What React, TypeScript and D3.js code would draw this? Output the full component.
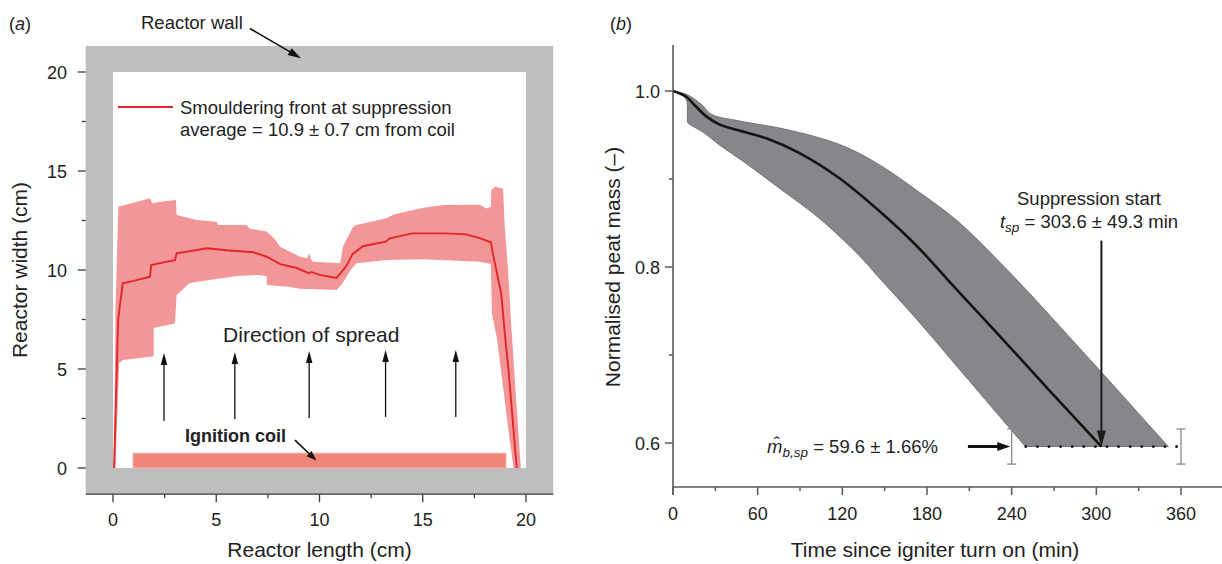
import React from "react";
import * as d3 from "d3";

const W = 1222;
const H = 564;
const FONT = "'Liberation Sans', Arial, Helvetica, sans-serif";

// ---------- Panel (a) data ----------
const xTicksA = [0, 5, 10, 15, 20];
const yTicksA = [0, 5, 10, 15, 20];
const minorTicksA = [2.5, 7.5, 12.5, 17.5];

const meanFrontA: [number, number][] = [
  [0.05, 0], [0.25, 7.5], [0.47, 9.33], [1.0, 9.45], [1.79, 9.66], [1.85, 10.25],
  [2.5, 10.4], [3.0, 10.5], [3.08, 10.84], [4.0, 11.0], [4.54, 11.1], [5.5, 11.0],
  [6.8, 10.9], [7.44, 10.67], [8.1, 10.3], [8.9, 10.1], [9.5, 9.83], [9.6, 9.9],
  [10.0, 9.75], [10.83, 9.6], [11.3, 10.2], [11.6, 10.8], [12.1, 11.2], [13.2, 11.43],
  [13.4, 11.6], [14.5, 11.85], [16.1, 11.85], [17.1, 11.8], [17.8, 11.6], [18.3, 11.4],
  [18.4, 10.8], [18.8, 8.8], [19.0, 6.5], [19.15, 5], [19.35, 2.5], [19.55, 0],
];

const bandUpperA: [number, number][] = [
  [0.05, 0], [0.12, 8], [0.26, 13.2], [1.0, 13.4], [1.79, 13.62], [1.9, 13.37],
  [2.3, 13.45], [3.05, 13.53], [3.08, 12.78], [4.05, 12.53], [5.0, 12.44], [5.1, 12.27],
  [6.47, 12.27], [6.6, 12.1], [7.44, 11.94], [7.8, 11.6], [8.1, 11.18], [9.05, 10.67],
  [9.4, 10.59], [9.5, 10.85], [9.6, 10.5], [9.7, 10.42], [11.0, 10.34], [11.14, 11.2],
  [11.63, 12.19], [11.79, 12.27], [13.24, 12.61], [13.6, 12.8], [15.02, 13.15],
  [16.0, 13.28], [17.76, 13.3], [18.08, 13.11], [18.3, 13.2], [18.32, 14.04],
  [18.5, 14.21], [18.89, 14.1], [18.97, 12.2], [19.13, 10], [19.3, 7], [19.55, 3], [19.75, 0],
];

const bandLowerA: [number, number][] = [
  [0.12, 0], [0.3, 5.3], [0.5, 5.45], [1.97, 5.65], [1.97, 7.07], [3.0, 7.3],
  [3.08, 8.74], [3.7, 9.33], [4.1, 9.41], [6.0, 9.7], [7.0, 9.75], [7.44, 9.7],
  [7.45, 9.24], [8.5, 9.16], [9.05, 9.05], [10.83, 8.99], [11.1, 9.3], [11.5, 10.0],
  [11.8, 10.34], [13.24, 10.5], [15.0, 10.54], [17.76, 10.42], [18.3, 10.3],
  [18.35, 7.81], [18.6, 6.5], [18.9, 4], [19.2, 1.5], [19.4, 0],
];

const spreadArrowX = [2.47, 5.9, 9.5, 13.2, 16.6];
const spreadArrowY0 = [2.37, 2.47, 2.53, 2.58, 2.58];
const spreadArrowY1 = [5.81, 5.86, 5.91, 5.96, 5.96];
const coilExtent = [0.97, 19.03];
const coilHeight = 0.75;
const wallCm = 1.32;

// ---------- Panel (b) data ----------
const xTicksB = [0, 60, 120, 180, 240, 300, 360];
const xMinorB = [30, 90, 150, 210, 270, 330];
const yTicksB = [0.6, 0.8, 1.0];
const yMinorB = [0.7, 0.9];

const timeMean = [0, 8.9, 15.9, 22.9, 32.7, 46.8, 66.5, 89, 117, 145.2, 173.3, 194.4, 218, 241, 266, 303.6];
const massMean = [1.0, 0.994, 0.983, 0.972, 0.962, 0.955, 0.946, 0.93, 0.902, 0.865, 0.823, 0.786, 0.745, 0.705, 0.661, 0.596];

const bandUpperB: [number, number][] = [
  [0, 1.0], [9.8, 0.996], [20, 0.985], [27.2, 0.9735], [46.8, 0.966], [75.1, 0.958],
  [103.2, 0.947], [122.9, 0.936], [145.4, 0.917], [173.6, 0.886], [201.8, 0.852],
  [230, 0.808], [255, 0.766], [280, 0.722], [305, 0.678], [328.5, 0.636], [351, 0.596],
];
const bandLowerB: [number, number][] = [
  [0, 1.0], [5, 0.997], [9.5, 0.99], [10.2, 0.975], [10.5, 0.964], [13, 0.961],
  [21.5, 0.953], [32.7, 0.939], [52.4, 0.917], [75, 0.89], [103.2, 0.856],
  [131.4, 0.814], [145.4, 0.789], [173.6, 0.739], [201.8, 0.686], [230, 0.633], [249.7, 0.596],
];

const tSp = 303.6;
const mSp = 0.596;
const errHalf = 0.02;
const errBarT = [240, 360];
const dotRange = [250, 360];
const supArrowTop = 0.83;
const mArrowT = [209, 239];

function Arrow({ x1, y1, x2, y2, sw = 1.3, hl = 12, hw = 7, color = "#111" }: any) {
  const dx = x2 - x1;
  const dy = y2 - y1;
  const L = Math.hypot(dx, dy);
  const ux = dx / L;
  const uy = dy / L;
  const bx = x2 - ux * hl;
  const by = y2 - uy * hl;
  const px = -uy;
  const py = ux;
  const pts = [
    [x2, y2],
    [bx + (px * hw) / 2, by + (py * hw) / 2],
    [bx - (px * hw) / 2, by - (py * hw) / 2],
  ];
  return (
    <g>
      <line x1={x1} y1={y1} x2={bx + ux * 2} y2={by + uy * 2} stroke={color} strokeWidth={sw} />
      <polygon points={pts.map((p) => p.join(",")).join(" ")} fill={color} />
    </g>
  );
}

export default function App() {
  const xA = d3.scaleLinear().domain([0, 20]).range([113, 526]);
  const yA = d3.scaleLinear().domain([0, 20]).range([468, 72]);
  const xB = d3.scaleLinear().domain([0, 360]).range([673, 1181]);
  const yB = d3.scaleLinear().domain([0.6, 1.0]).range([443, 91]);

  const lineA = d3.line<[number, number]>().x((d) => xA(d[0])).y((d) => yA(d[1]));
  const bandA =
    "M" +
    bandUpperA
      .concat(bandLowerA.slice().reverse())
      .map((d) => `${xA(d[0])},${yA(d[1])}`)
      .join("L") +
    "Z";

  const smooth = d3
    .line<[number, number]>()
    .x((d) => xB(d[0]))
    .y((d) => yB(d[1]))
    .curve(d3.curveCatmullRom.alpha(0.5));
  const upPath = smooth(bandUpperB) as string;
  const lowPath = smooth(bandLowerB.slice().reverse()) as string;
  const bandB = upPath + lowPath.replace(/^M/, "L") + "Z";
  const meanPts: [number, number][] = timeMean.map((t, i) => [t, massMean[i]]);
  const meanB = smooth(meanPts) as string;

  const gx0 = xA(-wallCm);
  const gx1 = xA(20 + wallCm);
  const gy0 = yA(20 + wallCm);
  const gy1 = yA(-wallCm);

  const axisA = "#3a3a3a";
  const axisB = "#5a5a5a";

  return (
    <svg
      width={W}
      height={H}
      viewBox={`0 0 ${W} ${H}`}
      style={{ position: "absolute", left: 0, top: 0, background: "#fff" }}
      fontFamily={FONT}
    >
      <rect x={0} y={0} width={W} height={H} fill="#fff" />

      {/* ---------------- Panel (a) ---------------- */}
      <text x={9} y={30} fontSize={18} fill="#222">
        (<tspan fontStyle="italic">a</tspan>)
      </text>

      <rect x={gx0} y={gy0} width={gx1 - gx0} height={gy1 - gy0} fill="#bebebe" />
      <rect x={xA(0)} y={yA(20)} width={xA(20) - xA(0)} height={yA(0) - yA(20)} fill="#fff" />

      <path d={bandA} fill="#f29698" stroke="none" />
      <rect
        x={xA(coilExtent[0])}
        y={yA(coilHeight)}
        width={xA(coilExtent[1]) - xA(coilExtent[0])}
        height={yA(0) - yA(coilHeight)}
        fill="#ef8679"
        stroke="#f6b0a6"
        strokeWidth={1}
      />
      <path d={lineA(meanFrontA) as string} fill="none" stroke="#e4262b" strokeWidth={1.9} />

      <line x1={118} x2={173} y1={107} y2={107} stroke="#e4262b" strokeWidth={2} />
      <text x={180} y={114} fontSize={18.5} fill="#222">
        Smouldering front at suppression
      </text>
      <text x={180} y={136} fontSize={18.5} fill="#222">
        average = 10.9 ± 0.7 cm from coil
      </text>

      <text x={141} y={29} fontSize={18.5} fill="#222">
        Reactor wall
      </text>
      <Arrow x1={xA(6.63)} y1={yA(22.2)} x2={xA(9.1)} y2={yA(20.7)} sw={1.6} hl={13} hw={8} />

      <text x={xA(9.6)} y={342} fontSize={21} fill="#222" textAnchor="middle">
        Direction of spread
      </text>
      {spreadArrowX.map((x, i) => (
        <Arrow
          key={i}
          x1={xA(x)}
          y1={yA(spreadArrowY0[i])}
          x2={xA(x)}
          y2={yA(spreadArrowY1[i])}
          sw={1.3}
          hl={12}
          hw={6.5}
        />
      ))}

      <text x={185} y={442} fontSize={18} fontWeight="bold" fill="#222">
        Ignition coil
      </text>
      <Arrow x1={xA(8.81)} y1={yA(1.41)} x2={xA(9.85)} y2={yA(0.38)} sw={1.6} hl={10} hw={7} />

      <line x1={gx0} x2={gx1} y1={gy1} y2={gy1} stroke={axisA} strokeWidth={1.3} />
      {xTicksA.map((t) => (
        <g key={"xa" + t}>
          <line x1={xA(t)} x2={xA(t)} y1={gy1} y2={gy1 + 8} stroke={axisA} strokeWidth={1.3} />
          <text x={xA(t)} y={526} fontSize={18} textAnchor="middle" fill="#222">
            {t}
          </text>
        </g>
      ))}
      {minorTicksA.map((t) => (
        <line key={"xma" + t} x1={xA(t)} x2={xA(t)} y1={gy1} y2={gy1 + 4} stroke={axisA} strokeWidth={1.3} />
      ))}
      {yTicksA.map((t) => (
        <g key={"ya" + t}>
          <line x1={gx0 - 8} x2={gx0} y1={yA(t)} y2={yA(t)} stroke={axisA} strokeWidth={1.3} />
          <text x={67} y={yA(t) + 6.5} fontSize={18} textAnchor="end" fill="#222">
            {t}
          </text>
        </g>
      ))}
      {minorTicksA.map((t) => (
        <line key={"yma" + t} x1={gx0 - 4} x2={gx0} y1={yA(t)} y2={yA(t)} stroke={axisA} strokeWidth={1.3} />
      ))}
      <text x={xA(10)} y={557} fontSize={21} textAnchor="middle" fill="#222">
        Reactor length (cm)
      </text>
      <text transform={`translate(27, ${yA(10)}) rotate(-90)`} fontSize={21} textAnchor="middle" fill="#222">
        Reactor width (cm)
      </text>

      {/* ---------------- Panel (b) ---------------- */}
      <text x={610} y={30} fontSize={18} fill="#222">
        (<tspan fontStyle="italic">b</tspan>)
      </text>

      <path d={bandB} fill="#87878b" stroke="#727276" strokeWidth={1} />
      <path d={meanB} fill="none" stroke="#141414" strokeWidth={2.6} />

      <line
        x1={xB(dotRange[0])}
        x2={xB(dotRange[1])}
        y1={yB(mSp)}
        y2={yB(mSp)}
        stroke="#222"
        strokeWidth={3}
        strokeLinecap="round"
        strokeDasharray="0 11.6"
      />
      {errBarT.map((t) => (
        <g key={"eb" + t} stroke="#8a8a8a" strokeWidth={1.3}>
          <line x1={xB(t)} x2={xB(t)} y1={yB(mSp + errHalf)} y2={yB(mSp - errHalf)} />
          <line x1={xB(t) - 4.5} x2={xB(t) + 4.5} y1={yB(mSp + errHalf)} y2={yB(mSp + errHalf)} />
          <line x1={xB(t) - 4.5} x2={xB(t) + 4.5} y1={yB(mSp - errHalf)} y2={yB(mSp - errHalf)} />
        </g>
      ))}

      <Arrow x1={xB(tSp)} y1={yB(supArrowTop)} x2={xB(tSp)} y2={yB(mSp)} sw={2} hl={16} hw={9} color="#1a1a1a" />
      <text x={1089} y={205} fontSize={18.5} textAnchor="middle" fill="#222">
        Suppression start
      </text>
      <text x={1089} y={228} fontSize={18.5} textAnchor="middle" fill="#222">
        <tspan fontStyle="italic">t</tspan>
        <tspan fontStyle="italic" fontSize={13.5} dy={4}>
          sp
        </tspan>
        <tspan dy={-4}> = 303.6 ± 49.3 min</tspan>
      </text>

      <text x={938} y={453} fontSize={18.5} textAnchor="end" fill="#222">
        <tspan fontStyle="italic">{"m\u0302"}</tspan>
        <tspan fontStyle="italic" fontSize={13.5} dy={4}>
          b,sp
        </tspan>
        <tspan dy={-4}> = 59.6 ± 1.66%</tspan>
      </text>
      <Arrow x1={xB(mArrowT[0])} y1={yB(mSp)} x2={xB(mArrowT[1])} y2={yB(mSp)} sw={3} hl={13} hw={9} color="#111" />

      <line x1={xB(0)} x2={W} y1={yB(0.55)} y2={yB(0.55)} stroke={axisB} strokeWidth={1.6} />
      <line x1={xB(0)} x2={xB(0)} y1={45} y2={yB(0.55) + 8} stroke={axisB} strokeWidth={1.6} />
      {xTicksB.map((t) => (
        <g key={"xb" + t}>
          <line x1={xB(t)} x2={xB(t)} y1={yB(0.55)} y2={yB(0.55) + 8} stroke={axisB} strokeWidth={1.5} />
          <text x={xB(t)} y={520} fontSize={18} textAnchor="middle" fill="#222">
            {t}
          </text>
        </g>
      ))}
      {xMinorB.map((t) => (
        <line key={"xmb" + t} x1={xB(t)} x2={xB(t)} y1={yB(0.55)} y2={yB(0.55) + 4} stroke={axisB} strokeWidth={1.5} />
      ))}
      {yTicksB.map((t) => (
        <g key={"yb" + t}>
          <line x1={xB(0) - 8} x2={xB(0)} y1={yB(t)} y2={yB(t)} stroke={axisB} strokeWidth={1.5} />
          <text x={660} y={yB(t) + 6.5} fontSize={18} textAnchor="end" fill="#222">
            {t.toFixed(1)}
          </text>
        </g>
      ))}
      {yMinorB.map((t) => (
        <line key={"ymb" + t} x1={xB(0) - 4} x2={xB(0)} y1={yB(t)} y2={yB(t)} stroke={axisB} strokeWidth={1.5} />
      ))}
      <text x={935} y={557} fontSize={21} textAnchor="middle" fill="#222">
        Time since igniter turn on (min)
      </text>
      <text transform={`translate(620, ${yB(0.8)}) rotate(-90)`} fontSize={21} textAnchor="middle" fill="#222">
        Normalised peat mass (–)
      </text>
    </svg>
  );
}
